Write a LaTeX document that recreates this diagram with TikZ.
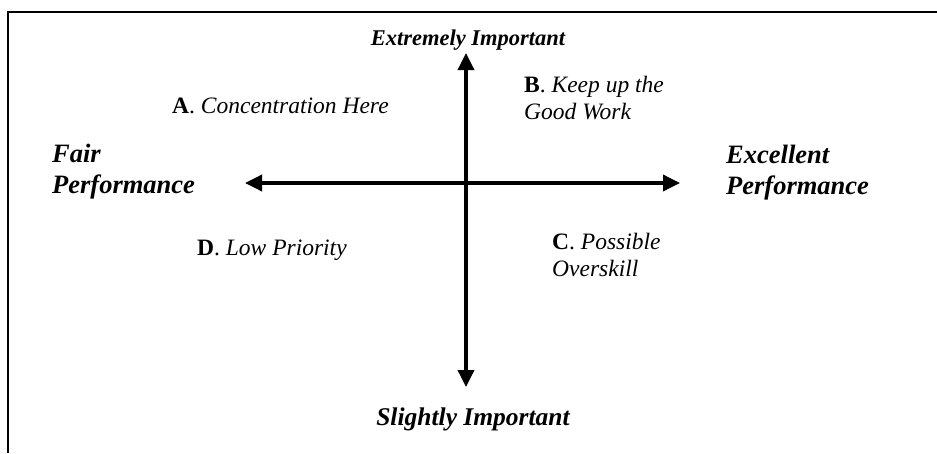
\documentclass[tikz,border=0pt]{standalone}
\usepackage{fontspec}
\setmainfont{Liberation Serif}
\usetikzlibrary{arrows.meta}
\begin{document}
\begin{tikzpicture}[x=1pt,y=-1pt,
  axis/.style={line width=3.5pt,{Triangle[length=17pt,width=16pt]}-{Triangle[length=17pt,width=16pt]}},
  axlabel/.style={font=\fontsize{22.5}{27}\selectfont\bfseries\itshape, inner sep=0pt},
  sidelabel/.style={font=\fontsize{26.5}{31}\selectfont\bfseries\itshape, inner sep=0pt, align=left, anchor=west},
  quad/.style={font=\fontsize{23.5}{27.5}\selectfont, inner sep=0pt, align=left},
  frame/.style={line width=2.5pt}]
\useasboundingbox (0,0) rectangle (937,453);
\coordinate (tr) at (937,12);
\coordinate (tl) at (8,12);
\coordinate (bl) at (8,453);
\draw[frame] (tr) -- (tl) -- (bl);
\coordinate (top) at (466,53);
\coordinate (bot) at (466,387);
\coordinate (left) at (245,183);
\coordinate (right) at (680,183);
\draw[axis] (top) -- (bot);
\draw[axis] (left) -- (right);
\node[axlabel, anchor=base] (ext) at (468,45) {Extremely Important};
\node[axlabel, font=\fontsize{25.5}{30}\selectfont\bfseries\itshape] (sli) at (473,419) {Slightly Important};
\node[sidelabel] (fair) at (52,172) {Fair\\Performance};
\node[sidelabel] (exc) at (726,173) {Excellent\\Performance};
\node[quad, anchor=base west] (qa) at (172,113) {\textbf{A}. \textit{Concentration Here}};
\node[quad, anchor=west] (qb) at (524,98) {\textbf{B}. \textit{Keep up the}\\\textit{Good Work}};
\node[quad, anchor=west] (qc) at (552,255) {\textbf{C}. \textit{Possible}\\\textit{Overskill}};
\node[quad, anchor=base west] (qd) at (197,255) {\textbf{D}. \textit{Low Priority}};
\end{tikzpicture}
\end{document}
